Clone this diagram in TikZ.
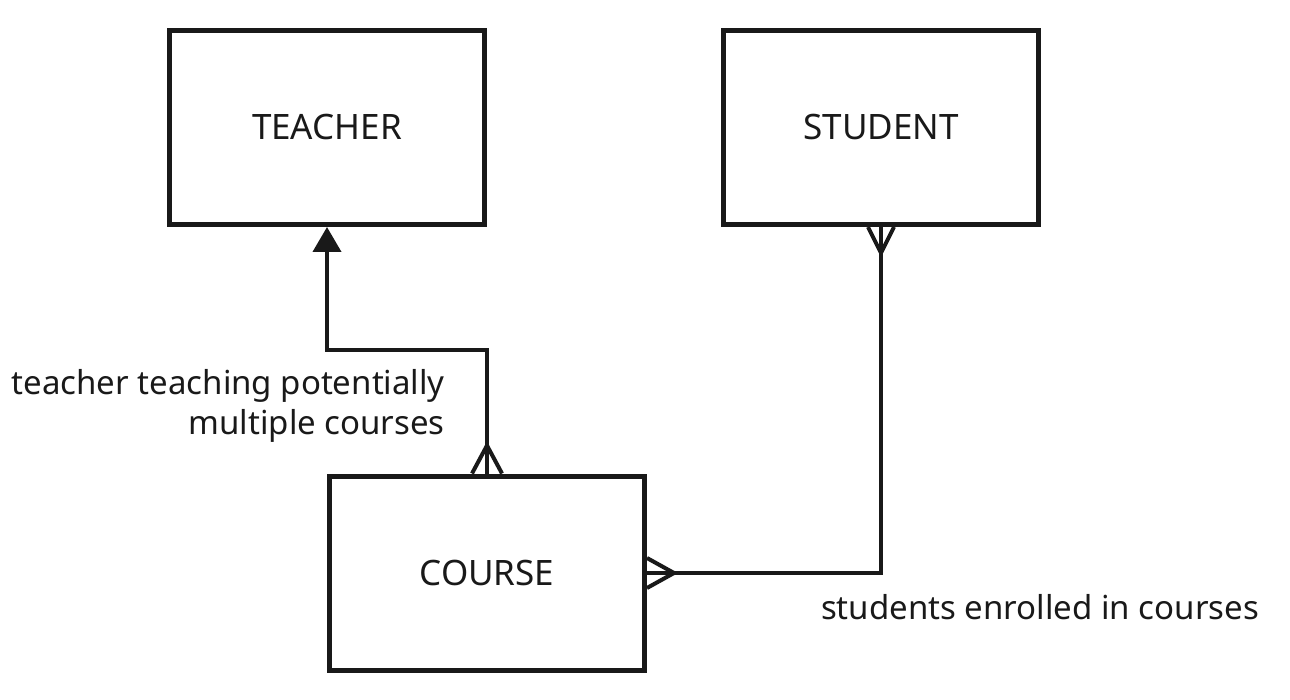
\documentclass[tikz,border=0pt]{standalone}
\usepackage{fontspec}
\setmainfont{Noto Sans}
\usetikzlibrary{arrows.meta}
\begin{document}
\begin{tikzpicture}[x=1pt,y=-1pt,
  entity/.style={draw=black!90, line width=5pt, minimum width=315pt, minimum height=194pt, inner sep=0pt,
    font=\fontsize{35}{40}\selectfont, text=black!90},
  rel/.style={draw=black!90, line width=4pt},
  foot/.style={draw=black!90, line width=4pt, line join=miter},
  lbl/.style={font=\fontsize{33}{40}\selectfont, text=black!90, inner sep=0pt}
]
\useasboundingbox (0,0) rectangle (1290,700);
\node[entity] (teacher) at (327,127.5) {TEACHER};
\node[entity] (student) at (881,127.5) {STUDENT};
\node[entity] (course) at (487,573) {COURSE};

\coordinate (b1) at (487,350);
\draw[rel, -{Triangle[length=25pt,width=28pt]}] (course.north) -- (b1) -| (teacher.south);
\draw[rel] (course.east) -| (student.south);

% crow's feet
\draw[foot] (course.north) ++(-15,0) -- ++(15,-28) -- ++(15,28);
\draw[foot] (student.south) ++(-13,0) -- ++(13,26) -- ++(13,-26);
\draw[foot] (course.east) ++(0,-15) -- ++(27,15) -- ++(-27,15);

\node[lbl, align=right, anchor=east] (l1) at (445,406) {teacher teaching potentially\\multiple courses};
\node[lbl] (l2) at (1040,607) {students enrolled in courses};
\end{tikzpicture}
\end{document}
